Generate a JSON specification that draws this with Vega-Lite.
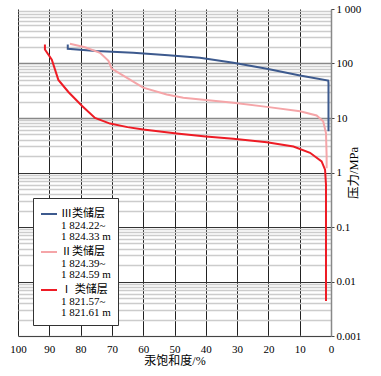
{
  "$schema": "https://vega.github.io/schema/vega-lite/v6.json",
  "width": 313,
  "height": 327,
  "padding": {"left": 18, "top": 9, "right": 50, "bottom": 40},
  "autosize": {"type": "none"},
  "config": {
    "view": {"stroke": null},
    "font": "Liberation Serif, Noto Sans CJK SC",
    "style": {"guide-label": {"lineHeight": 11.5}}
  },
  "data": {
    "values": [
      {"t": "Ⅲ类储层", "i": 1, "s": 84.1, "p": 223},
      {"t": "Ⅲ类储层", "i": 2, "s": 84.1, "p": 186},
      {"t": "Ⅲ类储层", "i": 3, "s": 75, "p": 170},
      {"t": "Ⅲ类储层", "i": 4, "s": 63.2, "p": 157},
      {"t": "Ⅲ类储层", "i": 5, "s": 52, "p": 141},
      {"t": "Ⅲ类储层", "i": 6, "s": 41.9, "p": 127},
      {"t": "Ⅲ类储层", "i": 7, "s": 31.2, "p": 103},
      {"t": "Ⅲ类储层", "i": 8, "s": 20.5, "p": 80},
      {"t": "Ⅲ类储层", "i": 9, "s": 9.9, "p": 60},
      {"t": "Ⅲ类储层", "i": 10, "s": 0.9, "p": 48.7},
      {"t": "Ⅲ类储层", "i": 11, "s": 0.8, "p": 44},
      {"t": "Ⅲ类储层", "i": 12, "s": 0.8, "p": 5.7},
      {"t": "Ⅱ类储层", "i": 1, "s": 83.4, "p": 230},
      {"t": "Ⅱ类储层", "i": 2, "s": 78.6, "p": 199},
      {"t": "Ⅱ类储层", "i": 3, "s": 73.8, "p": 157},
      {"t": "Ⅱ类储层", "i": 4, "s": 71.1, "p": 112},
      {"t": "Ⅱ类储层", "i": 5, "s": 70.1, "p": 81},
      {"t": "Ⅱ类储层", "i": 6, "s": 65.3, "p": 55},
      {"t": "Ⅱ类储层", "i": 7, "s": 60, "p": 36},
      {"t": "Ⅱ类储层", "i": 8, "s": 52.5, "p": 27},
      {"t": "Ⅱ类储层", "i": 9, "s": 47.2, "p": 23.5},
      {"t": "Ⅱ类储层", "i": 10, "s": 31.2, "p": 19},
      {"t": "Ⅱ类储层", "i": 11, "s": 20.5, "p": 16},
      {"t": "Ⅱ类储层", "i": 12, "s": 9.9, "p": 13.3},
      {"t": "Ⅱ类储层", "i": 13, "s": 4.6, "p": 11.1},
      {"t": "Ⅱ类储层", "i": 14, "s": 2.5, "p": 8.7},
      {"t": "Ⅱ类储层", "i": 15, "s": 1.6, "p": 5.3},
      {"t": "Ⅱ类储层", "i": 16, "s": 1.4, "p": 2},
      {"t": "Ⅱ类储层", "i": 17, "s": 1.4, "p": 1.2},
      {"t": "Ⅰ类储层", "i": 1, "s": 91.4, "p": 223},
      {"t": "Ⅰ类储层", "i": 2, "s": 91.4, "p": 181},
      {"t": "Ⅰ类储层", "i": 3, "s": 89.2, "p": 118},
      {"t": "Ⅰ类储层", "i": 4, "s": 87.1, "p": 50},
      {"t": "Ⅰ类储层", "i": 5, "s": 83.9, "p": 30},
      {"t": "Ⅰ类储层", "i": 6, "s": 79.6, "p": 16.8},
      {"t": "Ⅰ类储层", "i": 7, "s": 75.4, "p": 10},
      {"t": "Ⅰ类储层", "i": 8, "s": 70.6, "p": 7.9},
      {"t": "Ⅰ类储层", "i": 9, "s": 65, "p": 6.8},
      {"t": "Ⅰ类储层", "i": 10, "s": 60, "p": 6.15},
      {"t": "Ⅰ类储层", "i": 11, "s": 49.3, "p": 5.2},
      {"t": "Ⅰ类储层", "i": 12, "s": 40, "p": 4.6},
      {"t": "Ⅰ类储层", "i": 13, "s": 31.2, "p": 4.15},
      {"t": "Ⅰ类储层", "i": 14, "s": 20.5, "p": 3.6},
      {"t": "Ⅰ类储层", "i": 15, "s": 12, "p": 3.0},
      {"t": "Ⅰ类储层", "i": 16, "s": 6.7, "p": 2.3},
      {"t": "Ⅰ类储层", "i": 17, "s": 3, "p": 1.6},
      {"t": "Ⅰ类储层", "i": 18, "s": 1.9, "p": 1.13},
      {"t": "Ⅰ类储层", "i": 19, "s": 1.6, "p": 0.6},
      {"t": "Ⅰ类储层", "i": 20, "s": 1.6, "p": 0.0044}
    ]
  },
  "mark": {"type": "line", "strokeWidth": 2},
  "encoding": {
    "x": {
      "field": "s",
      "type": "quantitative",
      "scale": {"domain": [0, 100], "reverse": true, "nice": false},
      "axis": {
        "values": [0, 10, 20, 30, 40, 50, 60, 70, 80, 90, 100],
        "grid": true,
        "gridColor": {"condition": {"test": "datum.value == 0", "value": "#888888"}, "value": "#222222"},
        "gridWidth": 1,
        "tickSize": 0,
        "domainColor": "#444444",
        "domainWidth": 1.2,
        "labelPadding": 7,
        "labelFont": "Liberation Serif",
        "labelFontSize": 11,
        "labelColor": "#000000",
        "labelFlush": false,
        "labelOverlap": false,
        "title": "汞饱和度/%",
        "titleFont": "Liberation Serif, Noto Sans CJK SC",
        "titleFontSize": 12,
        "titleFontWeight": "normal",
        "titleColor": "#000000",
        "titlePadding": 1
      }
    },
    "y": {
      "field": "p",
      "type": "quantitative",
      "scale": {"type": "log", "domain": [0.001, 1000], "nice": false},
      "axis": {
        "orient": "right",
        "values": [0.001, 0.002, 0.003, 0.004, 0.005, 0.006, 0.007, 0.008, 0.009,
                   0.01, 0.02, 0.03, 0.04, 0.05, 0.06, 0.07, 0.08, 0.09,
                   0.1, 0.2, 0.3, 0.4, 0.5, 0.6, 0.7, 0.8, 0.9,
                   1, 2, 3, 4, 5, 6, 7, 8, 9,
                   10, 20, 30, 40, 50, 60, 70, 80, 90,
                   100, 200, 300, 400, 500, 600, 700, 800, 900, 1000],
        "grid": true,
        "gridColor": {
          "condition": [
            {"test": "datum.value == 1000", "value": "rgba(255,255,255,0)"},
            {"test": "datum.value == 10 || datum.value == 100", "value": "#888888"},
            {"test": "datum.value == 1 || datum.value == 0.1 || datum.value == 0.01", "value": "#333333"}
          ],
          "value": "#cccccc"
        },
        "gridWidth": {
          "condition": [
            {"test": "datum.value == 10 || datum.value == 100", "value": 1.6},
            {"test": "datum.value == 1 || datum.value == 0.1 || datum.value == 0.01", "value": 1.1}
          ],
          "value": 1.5
        },
        "tickSize": 3,
        "tickColor": "#444444",
        "tickOpacity": {
          "condition": {"test": "datum.value == 1000 || datum.value == 100 || datum.value == 10 || datum.value == 1 || datum.value == 0.1 || datum.value == 0.01 || datum.value == 0.001", "value": 1},
          "value": 0
        },
        "labelExpr": "datum.value == 1000 ? '1 000' : datum.value == 100 ? '100' : datum.value == 10 ? '10' : datum.value == 1 ? '1' : datum.value == 0.1 ? '0.1' : datum.value == 0.01 ? '0.01' : datum.value == 0.001 ? '0.001' : ''",
        "labelPadding": 2,
        "labelFont": "Liberation Serif",
        "labelFontSize": 11,
        "labelColor": "#000000",
        "labelFlush": false,
        "labelOverlap": false,
        "labelBound": false,
        "domainColor": "#888888",
        "domainWidth": 1.5,
        "title": "压力/MPa",
        "titleFont": "Liberation Serif, Noto Sans CJK SC",
        "titleAngle": 270,
        "titleFontSize": 12.5,
        "titleFontWeight": "normal",
        "titleColor": "#000000",
        "titlePadding": 0
      }
    },
    "color": {
      "field": "t",
      "type": "nominal",
      "scale": {"domain": ["Ⅲ类储层", "Ⅱ类储层", "Ⅰ类储层"], "range": ["#3d5a8e", "#f5a5a8", "#ee1c25"]},
      "legend": {
        "orient": "none",
        "legendX": 15,
        "legendY": 189,
        "title": null,
        "padding": 7,
        "strokeColor": "#333333",
        "fillColor": "#ffffff",
        "symbolType": "stroke",
        "symbolSize": 256,
        "symbolStrokeWidth": 2,
        "labelFont": "Liberation Serif, Noto Sans CJK SC",
        "labelFontSize": 11,
        "labelColor": "#000000",
        "labelOffset": 3,
        "labelLimit": 200,
        "rowPadding": 1,
        "labelExpr": "datum.value == 'Ⅲ类储层' ? ['Ⅲ类储层', '1 824.22~', '1 824.33 m'] : datum.value == 'Ⅱ类储层' ? ['Ⅱ类储层', '1 824.39~', '1 824.59 m'] : [' Ⅰ 类储层', '  1 821.57~', '  1 821.61 m']"
      }
    },
    "order": {"field": "i", "type": "quantitative"}
  }
}
